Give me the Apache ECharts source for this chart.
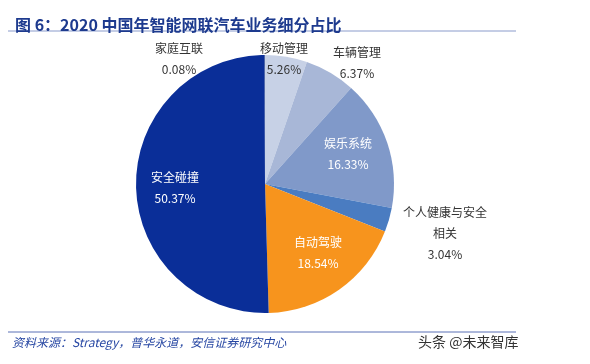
<!DOCTYPE html>
<html>
<head>
<meta charset="utf-8">
<script src="https://cdn.jsdelivr.net/npm/echarts@6/dist/echarts.min.js"></script>
<style>html,body{margin:0;padding:0;background:#fff}#c{width:590px;height:364px}</style>
</head>
<body>
<div id="c"></div>
<script>
// ---- data ----
const categories = ['移动管理', '车辆管理', '娱乐系统', '个人健康与安全\n相关', '自动驾驶', '安全碰撞', '家庭互联'];
const values = [5.26, 6.37, 16.33, 3.04, 18.54, 50.37, 0.08];
const titleText = '图 6：2020 中国年智能网联汽车业务细分占比';
const sourceText = '资料来源：Strategy，普华永道，安信证券研究中心';
const watermarkText = '头条 @未来智库';

// ---- styles / layout (not data) ----
const sliceColors = ['#c7d1e6', '#a8b7d7', '#8099c9', '#4a7cc1', '#f7941d', '#0a2e98', '#1d3a8a'];
const insideLabel = [false, false, true, false, true, true, false];
const labelAnchors = [[284, 59], [357, 63], [348, 154], [445, 233], [318, 253], [175, 188], [179, 59]];

const chart = echarts.init(document.getElementById('c'), null, {renderer: 'canvas'});
const data = categories.map((name, i) => ({
  name: name,
  value: values[i],
  itemStyle: {color: sliceColors[i]},
  label: {color: insideLabel[i] ? '#ffffff' : '#333333'}
}));

chart.setOption({
  backgroundColor: '#ffffff',
  animation: false,
  title: {
    text: titleText,
    left: 10,
    top: 12,
    textStyle: {fontSize: 16, fontWeight: 'bold', color: '#1d3a8e', fontFamily: '"Noto Sans CJK SC", sans-serif'}
  },
  graphic: [
    {type: 'line', shape: {x1: 8, y1: 31, x2: 516, y2: 31}, style: {stroke: '#8a9bcb', lineWidth: 1}},
    {type: 'line', shape: {x1: 8, y1: 332, x2: 516, y2: 332}, style: {stroke: '#5b70b6', lineWidth: 1}},
    {type: 'text', left: 12, top: 336, style: {text: sourceText, fill: '#2747a3', font: 'italic 12px "Noto Sans CJK SC", sans-serif'}},
    {type: 'text', left: 418, top: 335, style: {text: watermarkText, fill: '#333333', font: '14px "Noto Sans CJK SC", sans-serif'}}
  ],
  series: [{
    type: 'pie',
    center: [265, 184],
    radius: 129,
    startAngle: 90,
    clockwise: true,
    avoidLabelOverlap: false,
    data: data,
    label: {
      show: true,
      position: 'inside',
      fontSize: 12,
      lineHeight: 21,
      align: 'center',
      fontFamily: '"Noto Sans CJK SC", sans-serif',
      formatter: p => p.name + '\n' + p.value.toFixed(2) + '%'
    },
    labelLine: {show: false},
    labelLayout: function (params) {
      const a = labelAnchors[params.dataIndex];
      return {x: a[0], y: a[1], align: 'center', verticalAlign: 'middle'};
    },
    emphasis: {disabled: true}
  }]
});
</script>
</body>
</html>
